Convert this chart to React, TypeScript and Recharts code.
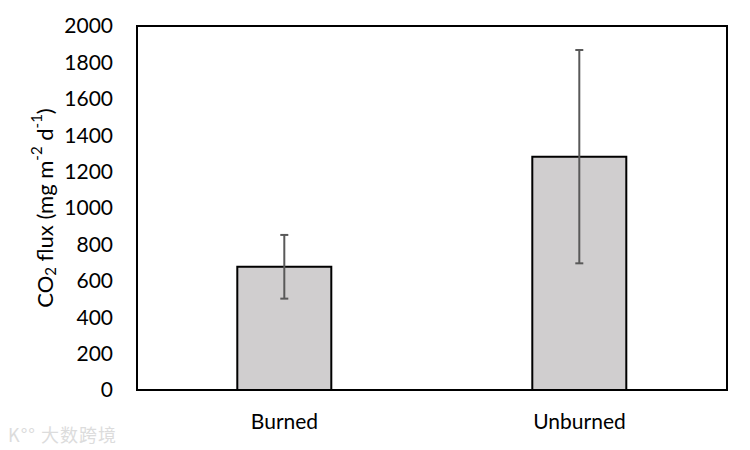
import { BarChart, Bar, XAxis, YAxis, ErrorBar, ReferenceArea } from 'recharts';

const sites = ['Burned', 'Unburned'];
const fluxMeans = [677, 1282];
const fluxErrors = [175, 586];
const yTicks = [0, 200, 400, 600, 800, 1000, 1200, 1400, 1600, 1800, 2000];

const data = sites.map((site, i) => ({ site, flux: fluxMeans[i], err: fluxErrors[i] }));

const FONT = 'Lato, "Open Sans", sans-serif';

const YLabel = (props: any) => {
  const vb = props.viewBox || { x: 0, y: 26, width: 137, height: 364 };
  const cx = 44;
  const cy = vb.y + vb.height / 2;
  return (
    <text
      x={cx}
      y={cy}
      transform={`rotate(-90, ${cx}, ${cy})`}
      textAnchor="middle"
      dominantBaseline="central"
      fontFamily={FONT}
      fontSize={22}
      fill="#000"
    >
      <tspan>CO</tspan>
      <tspan fontSize={15} dy={6}>2</tspan>
      <tspan dy={-6}> flux (mg m</tspan>
      <tspan fontSize={15} dy={-8}>-2</tspan>
      <tspan dy={8}> d</tspan>
      <tspan fontSize={15} dy={-8}>-1</tspan>
      <tspan dy={8}>)</tspan>
    </text>
  );
};

export default function App() {
  return (
    <div style={{ position: 'absolute', left: 0, top: 0, width: 750, height: 450, background: '#fff' }}>
      <BarChart
        width={750}
        height={450}
        data={data}
        margin={{ top: 26, right: 23, left: 0, bottom: 0 }}
        barCategoryGap="34%"
      >
        <XAxis
          dataKey="site"
          height={60}
          axisLine={{ stroke: '#000', strokeWidth: 2 }}
          tickLine={false}
          tick={{ fill: '#000', fontSize: 21, fontFamily: FONT }}
          tickMargin={18}
        />
        <YAxis
          width={137}
          domain={[0, 2000]}
          ticks={yTicks}
          interval={0}
          axisLine={{ stroke: '#000', strokeWidth: 2 }}
          tickLine={false}
          tick={{ fill: '#000', fontSize: 21, fontFamily: FONT }}
          tickMargin={18}
          label={<YLabel />}
        />
        <Bar dataKey="flux" fill="#d0cecf" stroke="#000" strokeWidth={2} isAnimationActive={false}>
          <ErrorBar dataKey="err" width={4} stroke="#595959" strokeWidth={2} direction="y" />
        </Bar>
        <ReferenceArea y1={0} y2={2000} fill="none" stroke="#000" strokeWidth={2} ifOverflow="visible" />
      </BarChart>
      <div
        style={{
          position: 'absolute',
          left: 8,
          top: 421,
          fontFamily: '"Noto Sans CJK SC", sans-serif',
          fontSize: 18,
          color: '#dcdcdc',
          letterSpacing: 1,
        }}
      >
        K°° 大数跨境
      </div>
    </div>
  );
}
